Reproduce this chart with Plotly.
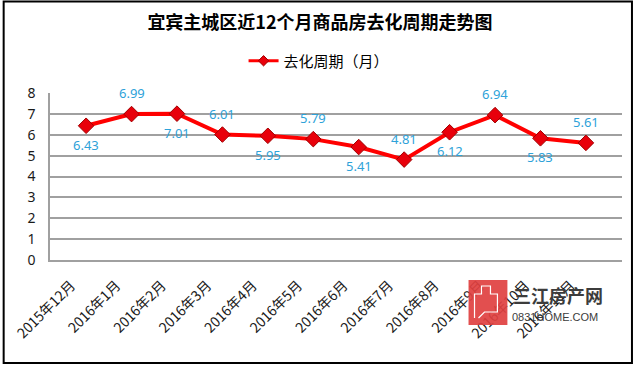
import plotly.graph_objects as go

categories = ["2015年12月", "2016年1月", "2016年2月", "2016年3月", "2016年4月", "2016年5月",
              "2016年6月", "2016年7月", "2016年8月", "2016年9月", "2016年10月", "2016年11月"]
values = [6.43, 6.99, 7.01, 6.01, 5.95, 5.79, 5.41, 4.81, 6.12, 6.94, 5.83, 5.61]
label_side = ["below", "above", "below", "above", "below", "above",
              "below", "above", "below", "above", "below", "above"]
series_name = "去化周期（月）"
title_text = "宜宾主城区近12个月商品房去化周期走势图"

W, H = 640, 365
L, R, T, B = 48, 18, 93, 105
pw, ph = W - L - R, H - T - B

def px(x):
    return (x - L) / pw

def py(y):
    return (H - B - y) / ph

font_cjk = "Noto Sans CJK SC, sans-serif"

fig = go.Figure()
fig.add_trace(go.Scatter(
    x=categories, y=values, name=series_name, showlegend=False,
    mode="lines+markers",
    line=dict(color="#FF0000", width=4),
    marker=dict(symbol="diamond", size=12, color="#E8000B", line=dict(color="#A00000", width=1)),
    cliponaxis=False,
))
# legend entry with a smaller symbol
fig.add_trace(go.Scatter(
    x=[None], y=[None], name=series_name, showlegend=True,
    mode="lines+markers",
    line=dict(color="#FF0000", width=3),
    marker=dict(symbol="diamond", size=8, color="#E8000B", line=dict(color="#A00000", width=1)),
))

annotations = []
for c, v, s in zip(categories, values, label_side):
    annotations.append(dict(
        x=c, y=v, xref="x", yref="y", text=f"{v:.2f}", showarrow=False,
        yshift=-19 if s == "below" else 21, xanchor="center", yanchor="middle",
        font=dict(family="Noto Sans, sans-serif", size=13, color="#2EA2D9"),
    ))

shapes = [
    # outer frame
    dict(type="rect", xref="paper", yref="paper", x0=px(1.5), x1=px(632), y0=py(363), y1=py(1.5),
         line=dict(color="#000000", width=2), fillcolor="rgba(0,0,0,0)", layer="above"),
    # watermark logo square
    dict(type="rect", xref="paper", yref="paper", x0=px(468), x1=px(507), y0=py(325), y1=py(280),
         line=dict(width=0), fillcolor="rgba(224,64,64,0.92)", layer="above"),
    dict(type="path", xref="paper", yref="paper", layer="above",
         path=f"M {px(474)},{py(318)} L {px(474)},{py(294)} L {px(481)},{py(294)} L {px(481)},{py(286)} "
              f"L {px(490)},{py(286)} L {px(490)},{py(294)} L {px(497)},{py(294)} L {px(497)},{py(312)} "
              f"L {px(484)},{py(312)} L {px(478)},{py(318)}",
         line=dict(color="white", width=1.2)),
]

annotations += [
    dict(xref="paper", yref="paper", x=px(511), y=py(295), text="<b>三江房产网</b>", showarrow=False,
         xanchor="left", yanchor="middle", font=dict(family=font_cjk, size=18, color="#3c3c3c")),
    dict(xref="paper", yref="paper", x=px(510), y=py(317), text="0831HOME.COM", showarrow=False,
         xanchor="left", yanchor="middle", font=dict(family="Liberation Sans, sans-serif", size=11, color="#3c3c3c")),
]

fig.update_layout(
    width=W, height=H,
    margin=dict(l=L, r=R, t=T, b=B, pad=0),
    paper_bgcolor="white", plot_bgcolor="white",
    title=dict(text=f"<b>{title_text}</b>", x=0.5, xanchor="center", y=1 - 23 / H, yanchor="middle",
               font=dict(family=font_cjk, size=18, color="#000000")),
    showlegend=True,
    legend=dict(orientation="h", x=px(318), xanchor="center", y=py(61), yanchor="middle",
                font=dict(family=font_cjk, size=15, color="#000000"), bgcolor="rgba(0,0,0,0)"),
    xaxis=dict(type="category", tickangle=-45, showgrid=False, showline=True, linecolor="#A0A0A0", linewidth=1.5,
               ticks="", ticklabelshift=-15, ticklabelstandoff=10,
               tickfont=dict(family=font_cjk, size=14, color="#1a1a1a"), fixedrange=True),
    yaxis=dict(range=[0, 8], dtick=1, showgrid=True, gridcolor="#A0A0A0", gridwidth=1.5,
               showline=True, linecolor="#A0A0A0", linewidth=1.5, zeroline=False, ticks="",
               ticklabelstandoff=10, fixedrange=True,
               tickfont=dict(family="Noto Sans, sans-serif", size=14, color="#1a1a1a")),
    shapes=shapes,
    annotations=annotations,
)

fig.write_html("out.html", config={"displayModeBar": False},
               post_script="document.body.style.margin='0';document.body.style.overflow='hidden';")
